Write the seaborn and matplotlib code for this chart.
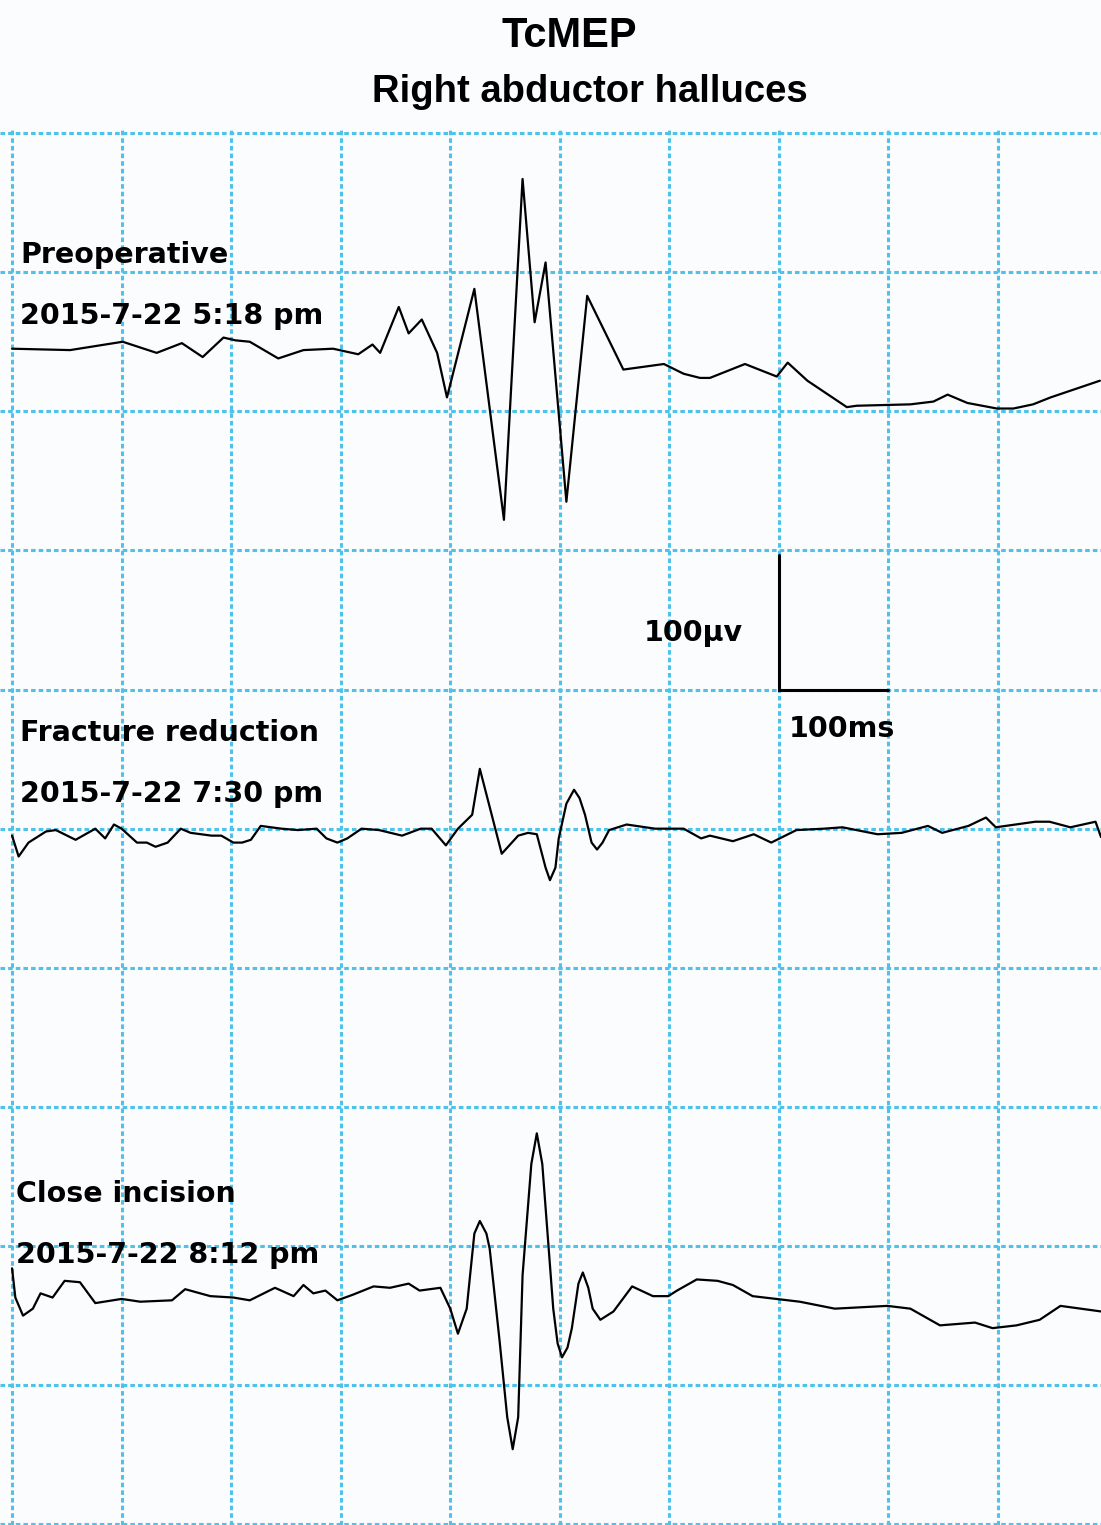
import numpy as np
import pandas as pd
import seaborn as sns
import matplotlib.pyplot as plt

sns.set_style("white")
plt.rcParams["font.family"] = ["DejaVu Sans"]
plt.rcParams["text.color"] = "black"

# time (ms) and amplitude (uV, relative to each trace's baseline)
t_pre = [0, 53, 101, 132, 155, 174, 193, 204, 217, 243, 266, 293, 316, 329, 336, 353, 362, 374, 388, 397,
         422, 449, 466, 477, 487, 506, 525, 558, 595, 613, 628, 637, 669, 698, 708, 726, 762, 771, 820, 841,
         854, 872, 899, 914, 932, 948, 993]
amp_pre = [1, 0, 6, -2, 5, -5, 9, 7, 6, -6, 0, 1, -3, 4, -2, 31, 12, 22, -2, -34,
           44, -122, 123, 20, 63, -109, 39, -14, -10, -17, -20, -20, -10, -19, -9, -22, -41, -40, -39, -37,
           -32, -38, -42, -42, -39, -34, -22]

t_frac = [0, 6, 15, 31, 40, 58, 76, 85, 93, 100, 114, 123, 131, 142, 154, 163, 182, 191, 202, 210,
          218, 227, 246, 261, 278, 287, 297, 306, 319, 335, 356, 373, 383, 396, 407, 420, 427, 447, 462, 471,
          479, 487, 491, 496, 499, 506, 513, 518, 523, 529, 534, 539, 545, 561, 587, 613, 629, 637, 658, 677,
          693, 716, 741, 758, 790, 812, 836, 849, 873, 889, 898, 934, 947, 966, 989, 994]
amp_frac = [-5, -20, -10, -2, -1, -8, 0, -7, 3, 0, -10, -10, -13, -10, 0, -3, -5, -5, -10, -10,
            -8, 2, 0, -1, 0, -7, -10, -7, 0, -1, -5, 0, 0, -12, 0, 10, 43, -18, -5, -3,
            -4, -28, -37, -28, -7, 18, 28, 22, 10, -10, -15, -10, -1, 3, 0, 0, -7, -5, -9, -4,
            -10, -1, 0, 1, -4, -3, 2, -3, 2, 8, 1, 5, 5, 1, 5, -6]

t_close = [0, 3, 10, 19, 26, 37, 48, 62, 76, 100, 117, 146, 158, 181, 202, 217, 240, 257, 266, 275,
           286, 297, 311, 330, 345, 362, 372, 391, 400, 407, 415, 422, 427, 433, 436, 445, 452, 457, 462, 466,
           474, 479, 484, 494, 498, 502, 507, 511, 517, 521, 526, 530, 537, 549, 566, 585, 599, 607, 625, 644,
           658, 676, 719, 751, 799, 820, 847, 879, 895, 917, 938, 957, 994]
amp_close = [20, -1, -14, -9, 2, -1, 11, 10, -5, -2, -4, -3, 5, 0, -1, -3, 6, 0, 8, 2,
             4, -3, 1, 7, 6, 9, 4, 6, -9, -27, -9, 45, 54, 45, 34, -32, -87, -110, -87, 15,
             95, 117, 95, -9, -34, -44, -37, -23, 9, 17, 6, -9, -17, -11, 7, 0, 0, 4, 12, 11,
             8, 0, -4, -9, -7, -9, -21, -19, -23, -21, -17, -7, -11]

stages = ["Preoperative", "Fracture reduction", "Close incision"]
times = ["2015-7-22 5:18 pm", "2015-7-22 7:30 pm", "2015-7-22 8:12 pm"]

W, H = 1101, 1525
bg = "#fbfcfe"
grid_c = "#4ec2ea"

fig = plt.figure(figsize=(W / 100, H / 100), dpi=100, facecolor=bg)
ax = fig.add_axes([0, 0, 1, (H - 130) / H], facecolor=bg)

offsets = [-156, -500, -836]
traces = [(t_pre, amp_pre), (t_frac, amp_frac), (t_close, amp_close)]
for (t, a), off in zip(traces, offsets):
    df = pd.DataFrame({"time": t, "uV": np.array(a) + off})
    sns.lineplot(data=df, x="time", y="uV", ax=ax, color="black", linewidth=1.6,
                 sort=False, estimator=None, zorder=3)

# scale bar 100 ms / 100 uV
ax.plot([700, 700, 800], [-303, -400, -400], color="black", lw=2.2, zorder=3,
        solid_joinstyle="miter")

# ticks first, limits after (set_xticks would widen the view)
ax.set_xticks(np.arange(0, 1001, 100))
ax.set_yticks(np.arange(-1000, 1, 100))
ax.set_xlim(-11, 994)
ax.set_ylim(-1000.5, 2.2)
ax.grid(True, color=grid_c, linestyle=(0, (1.5, 1.0)), linewidth=2.2, zorder=1)
ax.tick_params(length=0, labelbottom=False, labelleft=False)
ax.set_xlabel("")
ax.set_ylabel("")
for s in ax.spines.values():
    s.set_visible(False)


def ftext(px, py, s, **kw):
    fig.text(px / W, 1 - py / H, s, va="baseline", color="black", **kw)


ftext(569, 47, "TcMEP", ha="center", fontsize=30, weight="bold", family="Liberation Sans")
ftext(590, 102, "Right abductor halluces", ha="center", fontsize=27.5, weight="bold",
      family="Liberation Sans")

lab_pos = [(20, 263, 324), (20, 741, 802), (16, 1202, 1263)]
for (x, y1, y2), st, tm in zip(lab_pos, stages, times):
    ftext(x, y1, st, ha="left", fontsize=20.5, weight="bold")
    ftext(x, y2, tm, ha="left", fontsize=20.5, weight="bold")

ftext(644, 641, "100\u00b5v", ha="left", fontsize=20.5, weight="bold")
ftext(789, 737, "100ms", ha="left", fontsize=20.5, weight="bold")

fig.savefig("out.png", dpi=100, facecolor=bg)
